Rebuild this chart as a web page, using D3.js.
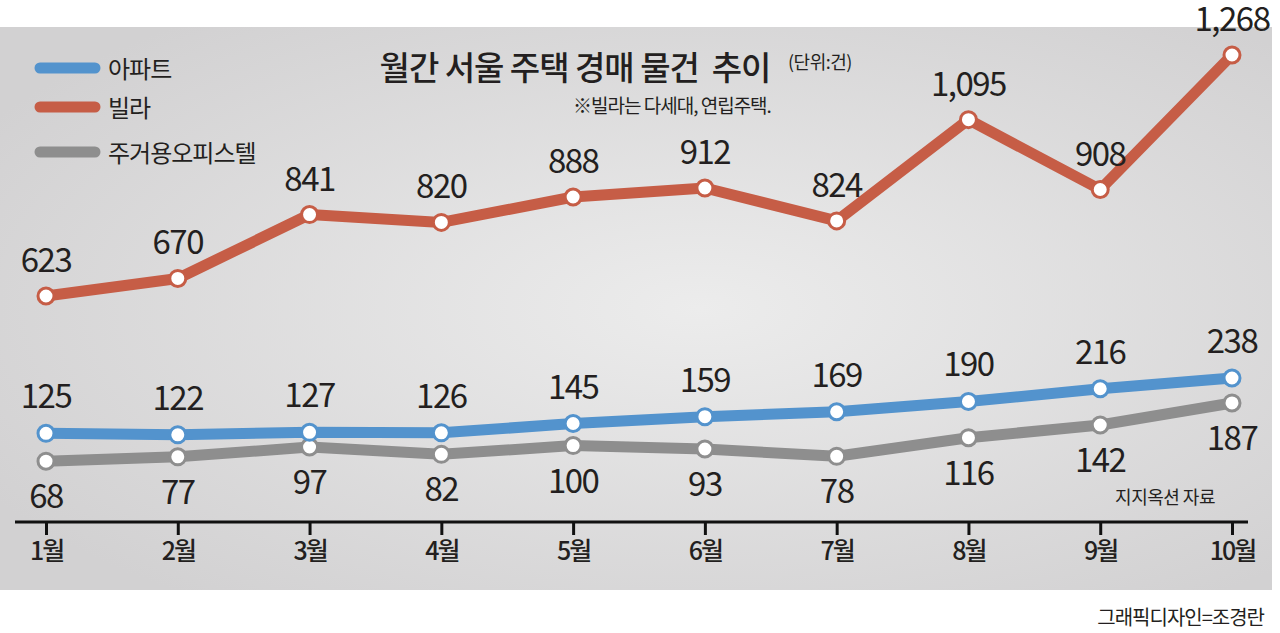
<!DOCTYPE html>
<html>
<head>
<meta charset="utf-8">
<title>월간 서울 주택 경매 물건 추이</title>
<script src="https://d3js.org/d3.v7.min.js"></script>
<style>
  body { margin: 0; background: #fff; }
  text { font-family: "Noto Sans CJK KR", "Noto Sans", sans-serif; fill: #231f20; }
</style>
</head>
<body>
<div id="chart"></div>
<script>
const months = ["1월", "2월", "3월", "4월", "5월", "6월", "7월", "8월", "9월", "10월"];
const villa = [623, 670, 841, 820, 888, 912, 824, 1095, 908, 1268];
const apt = [125, 122, 127, 126, 145, 159, 169, 190, 216, 238];
const officetel = [68, 77, 97, 82, 100, 93, 78, 116, 142, 187];
const seriesNames = ["아파트", "빌라", "주거용오피스텔"];
const colors = ["#5393cd", "#c65d46", "#8e8e8e"];

const W = 1280, H = 633;
const svg = d3.select("#chart").append("svg")
  .attr("width", W).attr("height", H);

// background panel with soft light center
const defs = svg.append("defs");
const grad = defs.append("radialGradient").attr("id", "bg")
  .attr("cx", "55%").attr("cy", "50%").attr("r", "65%");
grad.append("stop").attr("offset", "0%").attr("stop-color", "#ececec");
grad.append("stop").attr("offset", "100%").attr("stop-color", "#d2d1d2");
svg.append("rect").attr("x", 0).attr("y", 27).attr("width", 1272).attr("height", 563)
  .attr("fill", "url(#bg)");

// scales: villa drawn on its own (broken) scale above the others
const x = d3.scalePoint().domain(months).range([46, 1232]);
const yTop = d3.scaleLinear().domain([623, 1268]).range([296, 55]);
const yLow = d3.scaleLinear().domain([0, 238]).range([494.5, 378]);

// x axis
svg.append("line").attr("x1", 15).attr("x2", 1248).attr("y1", 522).attr("y2", 522)
  .attr("stroke", "#111").attr("stroke-width", 3);
const axis = svg.append("g").attr("transform", "translate(0,522)")
  .call(d3.axisBottom(x).tickSize(13).tickPadding(5));
axis.select(".domain").remove();
axis.selectAll(".tick line").attr("stroke", "#111").attr("stroke-width", 3);
axis.selectAll(".tick text").attr("font-size", 25).attr("font-weight", 500)
  .attr("fill", "#231f20")
  .attr("font-family", "'Noto Sans CJK KR', sans-serif")
  .attr("letter-spacing", -2).attr("dy", "0.8em");

const line = (ys) => d3.line().x((d, i) => x(months[i])).y(d => ys(d));

const series = [
  { data: officetel, ys: yLow, color: colors[2], dy: 47 },
  { data: apt, ys: yLow, color: colors[0], dy: -25 },
  { data: villa, ys: yTop, color: colors[1], dy: -24 }
];

series.forEach(s => {
  svg.append("path").datum(s.data)
    .attr("d", line(s.ys))
    .attr("fill", "none").attr("stroke", s.color)
    .attr("stroke-width", 11).attr("stroke-linejoin", "round");
});
series.forEach(s => {
  svg.append("g").selectAll("circle").data(s.data).join("circle")
    .attr("cx", (d, i) => x(months[i])).attr("cy", d => s.ys(d))
    .attr("r", 8).attr("fill", "#fff")
    .attr("stroke", s.color).attr("stroke-width", 3);
  svg.append("g").selectAll("text").data(s.data).join("text")
    .attr("x", (d, i) => x(months[i])).attr("y", d => s.ys(d) + s.dy)
    .attr("text-anchor", "middle").attr("font-size", 33)
    .attr("letter-spacing", -1.5)
    .text(d => d3.format(",")(d));
});

// legend
const legendY = [68, 107, 152];
seriesNames.forEach((n, i) => {
  svg.append("line").attr("x1", 40).attr("x2", 95)
    .attr("y1", legendY[i]).attr("y2", legendY[i])
    .attr("stroke", colors[i]).attr("stroke-width", 11).attr("stroke-linecap", "round");
  svg.append("text").attr("x", 108).attr("y", legendY[i] + 10)
    .attr("font-size", 24).attr("letter-spacing", -1).text(n);
});

// titles and notes
svg.append("text").attr("x", 575).attr("y", 80).attr("text-anchor", "middle")
  .attr("font-size", 33).attr("font-weight", 500).attr("letter-spacing", -1)
  .attr("xml:space", "preserve").text("월간 서울 주택 경매 물건  추이");
svg.append("text").attr("x", 788).attr("y", 69).attr("font-size", 18)
  .attr("letter-spacing", -0.5).text("(단위:건)");
svg.append("text").attr("x", 573).attr("y", 113).attr("font-size", 19)
  .attr("letter-spacing", -1).text("※빌라는 다세대, 연립주택.");
svg.append("text").attr("x", 1215).attr("y", 504).attr("text-anchor", "end")
  .attr("font-size", 18).attr("letter-spacing", -0.5).text("지지옥션 자료");
svg.append("text").attr("x", 1264).attr("y", 625).attr("text-anchor", "end")
  .attr("font-size", 20).attr("letter-spacing", -1).text("그래픽디자인=조경란");
</script>
</body>
</html>
